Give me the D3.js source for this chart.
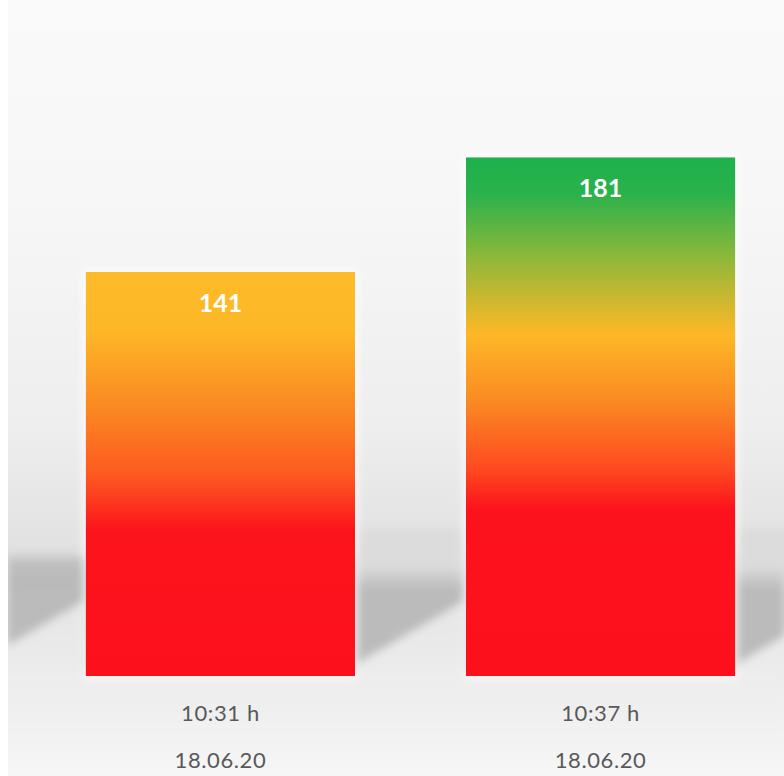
<!DOCTYPE html>
<html>
<head>
<meta charset="utf-8">
<script src="https://cdn.jsdelivr.net/npm/d3@7"></script>
<style>
  html, body { margin: 0; padding: 0; background: #fff; }
  svg { display: block; }
</style>
</head>
<body>
<svg id="chart" width="784" height="776"></svg>
<script>
// chart data
let times = ["10:31 h", "10:37 h"];
let dates = ["18.06.20", "18.06.20"];
let values = [141, 181];

// colour stops of each bar, from top (0) to bottom (1)
let barStops = [
  [[0, "#fdba29"], [0.14, "#fdb827"], [0.33, "#fa8a22"], [0.5, "#fd5a20"], [0.64, "#fc141c"], [1, "#fc101c"]],
  [[0, "#1db14e"], [0.07, "#2ab24b"], [0.19, "#8bb83a"], [0.34, "#fdb827"], [0.47, "#fa8a22"], [0.6, "#fe4a20"], [0.68, "#fc121c"], [1, "#fc101c"]]
];

let W = 784, H = 776;
let svg = d3.select("#chart");
let defs = svg.append("defs");

let x = d3.scaleBand()
  .domain(d3.range(values.length))
  .range([30, 791])
  .paddingInner(0.292)
  .paddingOuter(0.147);

let y = d3.scaleLinear()
  .domain([0, 200])
  .range([676, 103]);

// background wall gradient (light again at the floor)
let bg = defs.append("linearGradient").attr("id", "bg")
  .attr("gradientUnits", "userSpaceOnUse")
  .attr("x1", 0).attr("y1", 0).attr("x2", 0).attr("y2", H);
[[0, "#fafafa"], [0.25, "#f7f7f7"], [0.55, "#eeeeee"], [0.7, "#e2e2e2"], [0.715, "#dcdcdc"], [0.8, "#dcdcdc"], [0.86, "#ececec"], [1, "#f6f6f6"]]
  .forEach(s => bg.append("stop").attr("offset", s[0]).attr("stop-color", s[1]));

let band = defs.append("linearGradient").attr("id", "band")
  .attr("x1", 0).attr("y1", 0).attr("x2", 0).attr("y2", 1);
[[0, "#c4c4c4"], [0.15, "#bababa"], [1, "#bcbcbc"]]
  .forEach(s => band.append("stop").attr("offset", s[0]).attr("stop-color", s[1]));

// floor colour, in page space so all pieces line up
let floorG = defs.append("linearGradient").attr("id", "floor")
  .attr("gradientUnits", "userSpaceOnUse")
  .attr("x1", 0).attr("y1", 590).attr("x2", 0).attr("y2", H);
[[0, "#e4e4e4"], [0.45, "#ececec"], [1, "#f6f6f6"]]
  .forEach(s => floorG.append("stop").attr("offset", s[0]).attr("stop-color", s[1]));

let gapG = defs.append("linearGradient").attr("id", "gap")
  .attr("x1", 0).attr("y1", 0).attr("x2", 0).attr("y2", 1);
[[0, "#dcdcdc", 1], [0.6, "#dcdcdc", 1], [1, "#dcdcdc", 0]]
  .forEach(s => gapG.append("stop").attr("offset", s[0]).attr("stop-color", s[1]).attr("stop-opacity", s[2]));

defs.append("filter").attr("id", "soft")
  .attr("x", "-10%").attr("y", "-10%").attr("width", "120%").attr("height", "120%")
  .append("feGaussianBlur").attr("stdDeviation", 4);

svg.append("rect").attr("x", 0).attr("y", 0).attr("width", W).attr("height", H).attr("fill", "#ffffff");
svg.append("rect").attr("x", 8).attr("y", 0).attr("width", W - 8).attr("height", H).attr("fill", "url(#bg)");

// floor band with slanted shadows in the gaps
let step = x.step(), bw = x.bandwidth(), gap = step - bw;
let bandTop = 557, hi = 600, lo = 665;
let deco = svg.append("g").attr("filter", "url(#soft)");
deco.append("rect").attr("x", 8).attr("y", bandTop).attr("width", W - 8).attr("height", lo - bandTop + 8)
  .attr("fill", "url(#band)");
deco.append("rect").attr("x", 0).attr("y", y(0) - 4).attr("width", W).attr("height", H - y(0) + 40)
  .attr("fill", "url(#floor)");
let gaps = [x(0) - gap].concat(values.map((d, i) => x(i) + bw));
gaps.forEach(a => {
  let b = a + gap;
  // lighter area between bars at the top of the band
  if (a > x(0)) {
    deco.append("rect").attr("x", a).attr("y", 530).attr("width", gap).attr("height", 60)
      .attr("fill", "url(#gap)");
  }
  deco.append("path")
    .attr("d", `M${a},${lo} L${b},${hi} L${b},${y(0) + 10} L${a},${y(0) + 10} Z`)
    .attr("fill", "url(#floor)");
});
svg.append("rect").attr("x", 0).attr("y", 0).attr("width", 8).attr("height", H).attr("fill", "#ffffff");

// bar gradients
barStops.forEach((stops, i) => {
  let g = defs.append("linearGradient").attr("id", "bar" + i)
    .attr("x1", 0).attr("y1", 0).attr("x2", 0).attr("y2", 1);
  stops.forEach(s => g.append("stop").attr("offset", s[0]).attr("stop-color", s[1]));
});

// bars with a faint light halo
svg.selectAll("rect.halo")
  .data(values)
  .enter().append("rect")
  .attr("class", "halo")
  .attr("x", (d, i) => x(i) - 3)
  .attr("y", d => y(d) - 3)
  .attr("width", bw + 6)
  .attr("height", d => y(0) - y(d) + 6)
  .attr("fill", "#ffffff")
  .attr("opacity", 0.7)
  .attr("filter", "url(#soft)");

svg.selectAll("rect.bar")
  .data(values)
  .enter().append("rect")
  .attr("class", "bar")
  .attr("x", (d, i) => x(i))
  .attr("y", d => y(d))
  .attr("width", bw)
  .attr("height", d => y(0) - y(d))
  .attr("fill", (d, i) => "url(#bar" + i + ")");

// value labels
svg.selectAll("text.val")
  .data(values)
  .enter().append("text")
  .attr("class", "val")
  .attr("x", (d, i) => x(i) + bw / 2)
  .attr("y", d => y(d) + 40)
  .attr("text-anchor", "middle")
  .attr("font-family", "Lato, 'Open Sans', sans-serif")
  .attr("font-weight", "bold")
  .attr("font-size", 25)
  .attr("fill", "#ffffff")
  .text(d => d);

// category labels
svg.selectAll("text.time")
  .data(times)
  .enter().append("text")
  .attr("class", "time")
  .attr("x", (d, i) => x(i) + bw / 2)
  .attr("y", 721)
  .attr("text-anchor", "middle")
  .attr("font-family", "Lato, 'Open Sans', sans-serif")
  .attr("font-size", 22)
  .attr("letter-spacing", 0.6)
  .attr("fill", "#595959")
  .text(d => d);

svg.selectAll("text.date")
  .data(dates)
  .enter().append("text")
  .attr("class", "date")
  .attr("x", (d, i) => x(i) + bw / 2)
  .attr("y", 768)
  .attr("text-anchor", "middle")
  .attr("font-family", "Lato, 'Open Sans', sans-serif")
  .attr("font-size", 22)
  .attr("letter-spacing", 0.6)
  .attr("fill", "#595959")
  .text(d => d);
</script>
</body>
</html>
